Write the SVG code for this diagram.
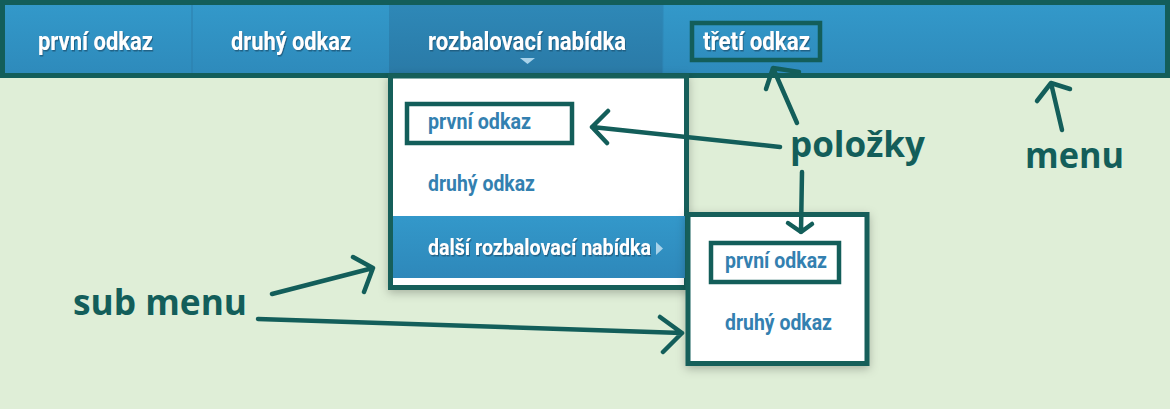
<svg xmlns="http://www.w3.org/2000/svg" width="1170" height="409" viewBox="0 0 1170 409">
<defs>
<linearGradient id="barG" x1="0" y1="0" x2="0" y2="1"><stop offset="0" stop-color="#3399ca"/><stop offset="1" stop-color="#2e8abb"/></linearGradient>
<linearGradient id="darkG" x1="0" y1="0" x2="0" y2="1"><stop offset="0" stop-color="#2e88b7"/><stop offset="1" stop-color="#2a7aa7"/></linearGradient>
<linearGradient id="rowG" x1="0" y1="0" x2="0" y2="1"><stop offset="0" stop-color="#3398ca"/><stop offset="1" stop-color="#2e88ba"/></linearGradient>
<filter id="sh" x="-20%" y="-20%" width="140%" height="140%"><feDropShadow dx="0" dy="3" stdDeviation="5" flood-color="#000" flood-opacity="0.25"/></filter>
<filter id="ts" x="-5%" y="-20%" width="110%" height="140%"><feDropShadow dx="1" dy="1.5" stdDeviation="0.3" flood-color="#1d5d80" flood-opacity="0.9"/></filter>
</defs>
<style>
.nav{font-family:"Liberation Sans Narrow","Roboto","Liberation Sans",sans-serif;font-weight:bold;}
.w{fill:#ffffff;font-size:25px;}
.b{fill:#3380b0;font-size:21.5px;}
.lbl{font-family:"Open Sans","Noto Sans",sans-serif;font-weight:bold;fill:#135e5a;font-size:36px;}
.hl{fill:none;stroke:#135e5a;stroke-width:4.5;}
.arr{fill:none;stroke:#135e5a;stroke-width:4.5;stroke-linecap:round;stroke-linejoin:round;}
</style>
<rect x="0" y="0" width="1170" height="409" fill="#dfeed7"/>

<g id="menu-bar">
<rect x="2.5" y="2.5" width="1165" height="73" fill="url(#barG)" stroke="#135e5a" stroke-width="5"/>
<rect x="389" y="5" width="274" height="68" fill="url(#darkG)"/>
<line x1="192" y1="5" x2="192" y2="73" stroke="#2c7fab" stroke-width="1"/>
<line x1="663" y1="5" x2="663" y2="73" stroke="#2e88b8" stroke-width="1"/>
</g>

<g id="item-prvni" filter="url(#ts)"><text class="nav w" x="38" y="50" textLength="115" lengthAdjust="spacingAndGlyphs">první odkaz</text></g>
<g id="item-druhy" filter="url(#ts)"><text class="nav w" x="231" y="50" textLength="120" lengthAdjust="spacingAndGlyphs">druhý odkaz</text></g>
<g id="item-rozbalovaci">
<text class="nav w" x="428" y="50" textLength="198" lengthAdjust="spacingAndGlyphs" filter="url(#ts)">rozbalovací nabídka</text>
<polygon points="520,58 535,58 527.5,64" fill="#a9d3ea"/>
</g>
<g id="item-treti">
<text class="nav w" x="703" y="50" textLength="107" lengthAdjust="spacingAndGlyphs" filter="url(#ts)">třetí odkaz</text>
<rect class="hl" x="692" y="23" width="128" height="37"/>
</g>

<g id="dropdown">
<rect x="390.5" y="76" width="296" height="211.5" fill="#ffffff" stroke="#135e5a" stroke-width="5" filter="url(#sh)"/>
<rect x="393" y="216" width="292" height="62" fill="url(#rowG)"/>
<text class="nav b" x="428" y="129" textLength="103" lengthAdjust="spacingAndGlyphs">první odkaz</text>
<rect class="hl" x="407" y="104" width="165" height="39"/>
<text class="nav b" x="428" y="191" textLength="107" lengthAdjust="spacingAndGlyphs">druhý odkaz</text>
<text class="nav b" x="428" y="255" textLength="223" lengthAdjust="spacingAndGlyphs" style="fill:#ffffff" filter="url(#ts)">další rozbalovací nabídka</text>
<polygon points="656,242 656,255 663,248.5" fill="#a9d3ea"/>
</g>

<g id="submenu">
<rect x="688" y="214.5" width="179" height="149" fill="#ffffff" stroke="#135e5a" stroke-width="5" filter="url(#sh)"/>
<text class="nav b" x="725" y="268" textLength="102" lengthAdjust="spacingAndGlyphs">první odkaz</text>
<rect class="hl" x="711" y="243" width="128" height="39"/>
<text class="nav b" x="725" y="330" textLength="107" lengthAdjust="spacingAndGlyphs">druhý odkaz</text>
</g>

<g id="label-polozky"><text class="lbl" x="790" y="157" textLength="135" lengthAdjust="spacingAndGlyphs">položky</text></g>
<g id="label-menu"><text class="lbl" x="1025" y="168" textLength="99" lengthAdjust="spacingAndGlyphs">menu</text></g>
<g id="label-submenu"><text class="lbl" x="73" y="315" textLength="174" lengthAdjust="spacingAndGlyphs">sub menu</text></g>

<g id="connectors">
<path class="arr" d="M780,147 L592,127 M608,111 L592,127 L607,143"/>
<path class="arr" d="M797,123 L773,68 M766,89 L773,68 L799,72"/>
<path class="arr" d="M802,172 L801,232 M788,223 L801,232 L812,224"/>
<path class="arr" d="M1062,130 L1051,83 M1037,101 L1051,83 L1070,89"/>
<path class="arr" d="M272,294 L373,268 M353,257 L373,268 L364,292"/>
<path class="arr" d="M258,319 L682,333 M660,317 L682,333 L663,352"/>
</g>
</svg>
